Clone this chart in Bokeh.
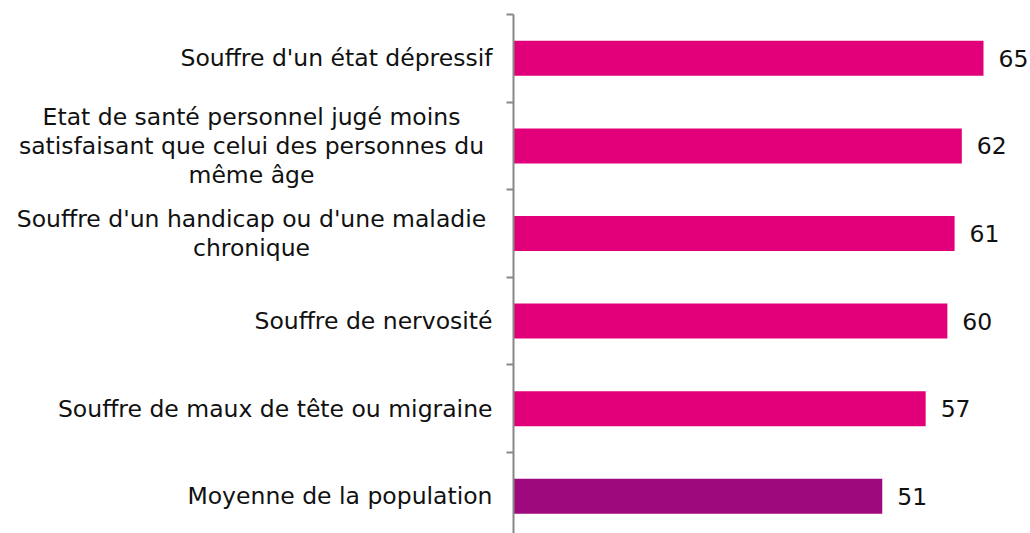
from bokeh.plotting import figure
from bokeh.models import Range1d, FixedTicker, ColumnDataSource
from bokeh.core.properties import value
from bokeh.embed import file_html
from bokeh.resources import INLINE

categories = [
    "Souffre d'un état dépressif",
    "Etat de santé personnel jugé moins\nsatisfaisant que celui des personnes du\nmême âge",
    "Souffre d'un handicap ou d'une maladie\nchronique",
    "Souffre de nervosité",
    "Souffre de maux de tête ou migraine",
    "Moyenne de la population",
]
values = [65, 62, 61, 60, 57, 51]
value_labels = ["65", "62", "61", "60", "57", "51"]

PINK = "#E2007A"
PURPLE = "#9E0A7E"
FONT = "DejaVu Sans"
FS = "23.5px"

W, H = 1030, 533
AXIS_PX = 513          # screen x of the value axis
PX_PER_UNIT = 470 / 65
BAND_PX = 87.6
TOP_PX = 14

n = len(categories)
ypos = [n - 1 - i for i in range(n)]
colors = [PINK] * (n - 1) + [PURPLE]
multi = ["\n" in c for c in categories]
cat_align = ["center" if m else "right" for m in multi]
cat_off = [-262 if m else -21 for m in multi]

src = ColumnDataSource(dict(y=ypos, v=values, lab=value_labels, c=colors,
                            cat=categories, al=cat_align, off=cat_off,
                            zero=[0] * n))

x0 = -AXIS_PX / PX_PER_UNIT
x1 = (W - AXIS_PX) / PX_PER_UNIT
y1 = n - 0.5 + TOP_PX / BAND_PX
y0 = n - 0.5 - (H - TOP_PX) / BAND_PX

p = figure(width=W, height=H, output_backend="svg", toolbar_location=None,
           x_range=Range1d(x0, x1), y_range=Range1d(y0, y1),
           x_axis_location=None, min_border=0)
p.outline_line_color = None
p.xgrid.visible = False
p.ygrid.visible = False

p.hbar(y="y", right="v", left=0, height=0.4, fill_color="c", line_color=None, source=src)

boundaries = [k - 0.5 for k in range(n + 1)]
ax = p.yaxis[0]
ax.fixed_location = 0
ax.ticker = FixedTicker(ticks=boundaries)
ax.minor_tick_line_color = None
ax.major_tick_in = 0
ax.major_tick_out = 7
ax.major_tick_line_width = 2
ax.major_tick_line_color = "#878787"
ax.axis_line_color = "#878787"
ax.axis_line_width = 2
ax.major_label_overrides = {b: "" for b in boundaries}
ax.bounds = (-0.5, n - 0.5)

p.text(x="v", y="y", text="lab", source=src, x_offset=15,
       text_baseline="middle", text_align="left",
       text_font=value(FONT), text_font_size=value(FS), text_color="#111111")

p.text(x="zero", y="y", text="cat", source=src, x_offset="off",
       text_baseline="middle", text_align="al", text_line_height=1.04,
       text_font=value(FONT), text_font_size=value(FS), text_color="#111111")

open("out.html", "w").write(file_html(p, INLINE))
